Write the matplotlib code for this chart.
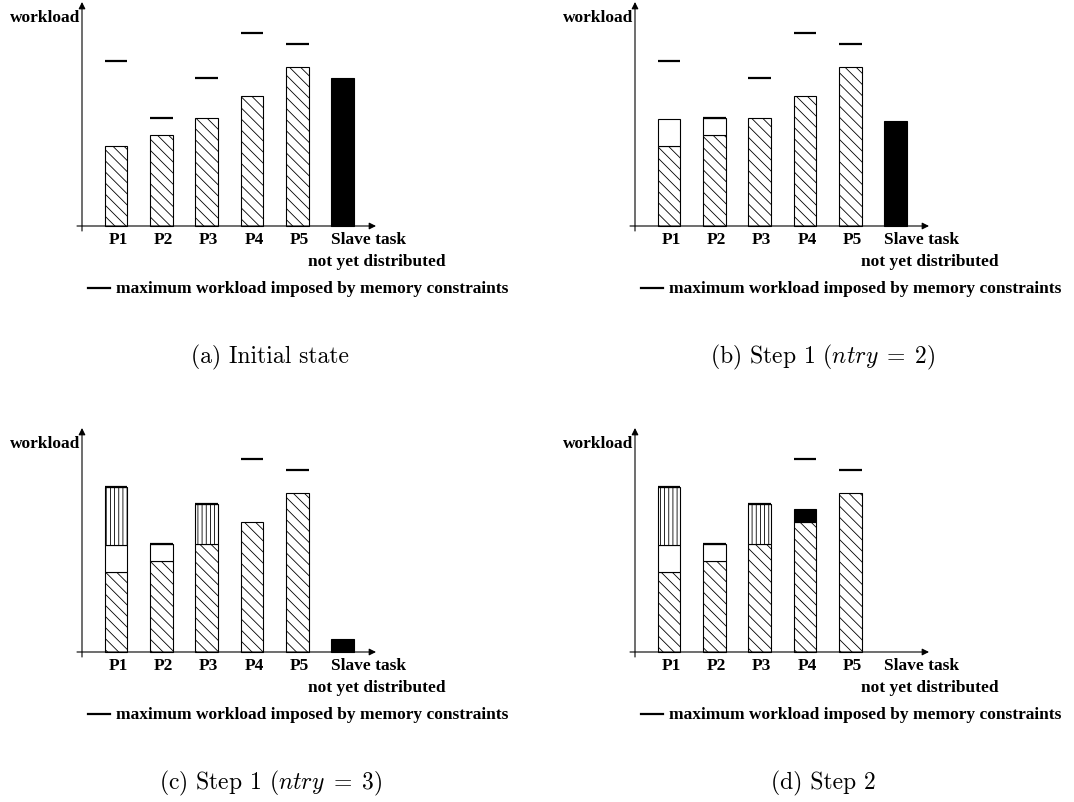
import numpy as np
import matplotlib
matplotlib.use('Agg')
import matplotlib.pyplot as plt

plt.rcParams['hatch.linewidth'] = 0.6
plt.rcParams['mathtext.fontset'] = 'cm'

categories = ['P1', 'P2', 'P3', 'P4', 'P5']
base_load = [80, 91, 108, 130, 159]
max_load = [165, 108, 148, 193, 182]
slave_left = [148, 105, 13, 0]
first_try = [27, 17, 0, 0, 0]    # white part, ntry = 2
second_try = [58, 0, 40, 0, 0]   # vertical hatch, ntry = 3
final_part = [0, 0, 0, 13, 0]    # black part, step 2
captions = ['(a) Initial state', r'(b) Step 1 ($ntry\;=\;2$)',
            r'(c) Step 1 ($ntry\;=\;3$)', '(d) Step 2']

W, H = 1074, 803
fig = plt.figure(figsize=(W / 100, H / 100), dpi=100)

# origin (y axis x, x axis y) of each panel in pixels from top-left
origins = [(82, 227), (635, 227), (82, 653), (635, 653)]
step = 45.3
lab = dict(family='Liberation Serif', weight='bold', fontsize=12.5)


def panel(k):
    cx, cy = origins[k]
    left, right, top, bottom = cx - 82, cx + 430, cy - 227, cy + 150
    ax = fig.add_axes([left / W, 1 - bottom / H, (right - left) / W, (bottom - top) / H])
    x0 = cx + 34
    ax.set_xlim((left - x0) / step, (right - x0) / step)
    ax.set_ylim(cy - bottom, cy - top)
    ax.axis('off')

    x = np.arange(len(categories))
    w = 0.5
    bottom_ = np.array(base_load, dtype=float)
    ax.bar(x, base_load, width=w, facecolor='white', edgecolor='black',
           hatch='\\\\\\', linewidth=0.8)
    layers = [(first_try, dict(facecolor='white')),
              (second_try, dict(facecolor='white', hatch='||||')),
              (final_part, dict(facecolor='black'))]
    for part, style in layers[:k]:
        part = np.array(part, dtype=float)
        m = part > 0
        ax.bar(x[m], part[m], width=w, bottom=bottom_[m], edgecolor='black',
               linewidth=0.8, **style)
        bottom_ = bottom_ + part
    if slave_left[k] > 0:
        ax.bar([5], [slave_left[k]], width=w, color='black', edgecolor='black', linewidth=0.8)
    ax.hlines(max_load, x - w / 2, x + w / 2, colors='black', linewidth=1.6, zorder=5)

    # axes with arrows
    ya = -(34) / step
    ax.annotate('', xy=(ya, 224), xytext=(ya, -5),
                arrowprops=dict(arrowstyle='-|>', color='black', lw=0.8,
                                mutation_scale=10, shrinkA=0, shrinkB=0))
    ax.annotate('', xy=(260 / step, 0), xytext=(-39 / step, 0),
                arrowprops=dict(arrowstyle='-|>', color='black', lw=0.8,
                                mutation_scale=10, shrinkA=0, shrinkB=0))

    ax.text(ya - 2 / step, 209, 'workload', ha='right', va='center', **lab)
    for i, c in enumerate(categories):
        ax.text(i + 0.05, -13, c, ha='center', va='center', **lab)
    ax.text(5 - w / 2, -13, 'Slave task', ha='left', va='center', **lab)
    ax.text(330 / step, -35, 'not yet distributed', ha='right', va='center', **lab)
    ax.plot([-28 / step, -6 / step], [-62, -62], color='black', lw=1.6)
    ax.text(0, -62, 'maximum workload imposed by memory constraints',
            ha='left', va='center', **lab)
    ax.text(154 / step, -130, captions[k], ha='center', va='center',
            family='cmr10', fontsize=17)


for k in range(4):
    panel(k)

fig.savefig('out.png', dpi=100)
